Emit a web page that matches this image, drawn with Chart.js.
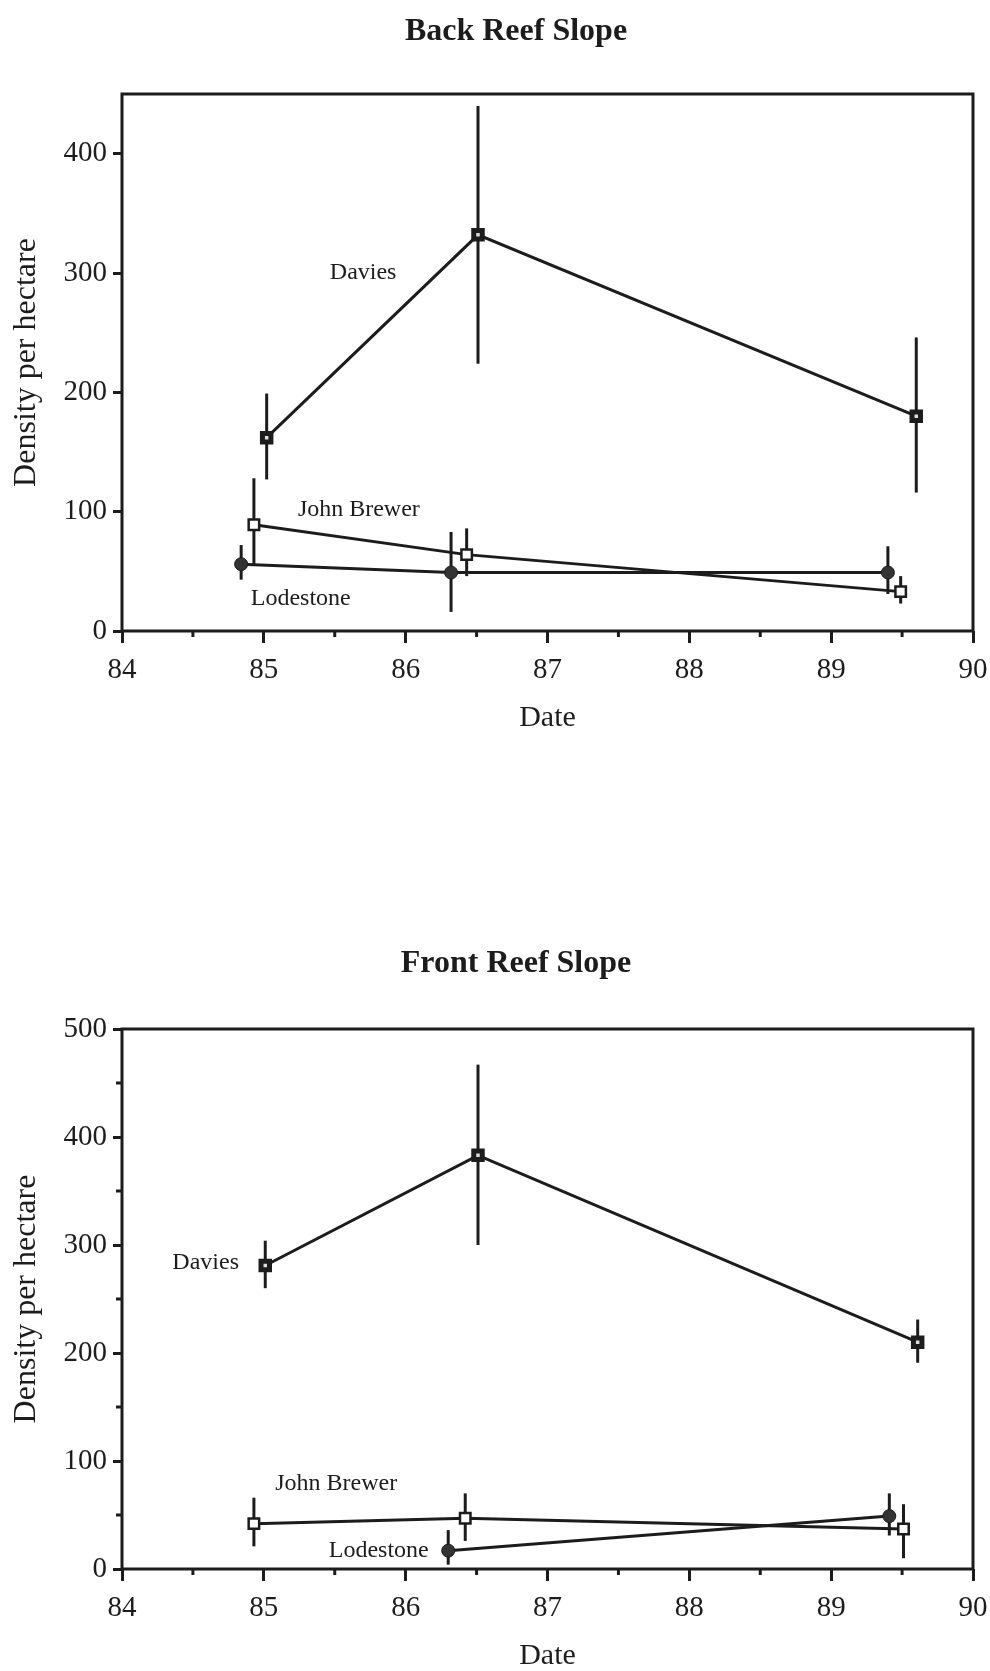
<!DOCTYPE html>
<html>
<head>
<meta charset="utf-8">
<script src="https://cdn.jsdelivr.net/npm/chart.js@4/dist/chart.umd.min.js"></script>
<style>
  body { margin: 0; background: #fff; overflow: hidden; }
  .panel { position: absolute; left: 0; width: 990px; }
</style>
</head>
<body>
<div class="panel" style="top:0;height:760px"><canvas id="backChart" width="990" height="760"></canvas></div>
<div class="panel" style="top:760px;height:911px"><canvas id="frontChart" width="990" height="911"></canvas></div>
<script>
// Back reef slope
const backDaviesX = [85.02, 86.51, 89.6];
const backDaviesY = [162, 332, 180];
const backDaviesLo = [127, 224, 116];
const backDaviesHi = [199, 440, 246];

const backBrewerX = [84.93, 86.43, 89.49];
const backBrewerY = [89, 64, 33];
const backBrewerLo = [56, 46, 23];
const backBrewerHi = [128, 86, 46];

const backLodeX = [84.84, 86.32, 89.4];
const backLodeY = [56, 49, 49];
const backLodeLo = [43, 16, 31];
const backLodeHi = [72, 83, 71];

// Front reef slope
const frontDaviesX = [85.01, 86.51, 89.61];
const frontDaviesY = [281, 383, 210];
const frontDaviesLo = [260, 300, 191];
const frontDaviesHi = [304, 467, 231];

const frontBrewerX = [84.93, 86.42, 89.51];
const frontBrewerY = [42, 47, 37];
const frontBrewerLo = [21, 26, 10];
const frontBrewerHi = [66, 70, 60];

const frontLodeX = [86.30, 89.41];
const frontLodeY = [17, 49];
const frontLodeLo = [4, 31];
const frontLodeHi = [36, 70];

const xTicks = [84, 85, 86, 87, 88, 89, 90];
const xMinorTicks = [84.5, 85.5, 86.5, 87.5, 88.5, 89.5];
const backYTicks = [0, 100, 200, 300, 400];
const frontYTicks = [0, 100, 200, 300, 400, 500];
const frontYMinorTicks = [50, 150, 250, 350, 450];

const ink = '#1c1c1c';
const serif = "'Liberation Serif', 'Times New Roman', serif";

function points(xs, ys, lo, hi) {
  return xs.map((x, i) => ({ x: x, y: ys[i], lo: lo[i], hi: hi[i] }));
}

const markerStyles = {
  Davies: { pointStyle: 'rect', pointRadius: 6, pointBackgroundColor: '#ddd', pointBorderColor: ink, pointBorderWidth: 5 },
  'John Brewer': { pointStyle: 'rect', pointRadius: 7.4, pointBackgroundColor: '#fff', pointBorderColor: ink, pointBorderWidth: 2.5 },
  Lodestone: { pointStyle: 'circle', pointRadius: 6.5, pointBackgroundColor: '#333', pointBorderColor: ink, pointBorderWidth: 1 }
};

function series(name, data) {
  return Object.assign({
    label: name,
    data: data,
    showLine: true,
    borderColor: ink,
    borderWidth: 3,
    pointHoverRadius: 7
  }, markerStyles[name]);
}

// error bars, frame, minor ticks, title and in-plot labels
const reefPlugin = {
  id: 'reef',
  beforeDatasetsDraw(chart) {
    const { ctx, scales: { x, y } } = chart;
    ctx.save();
    ctx.strokeStyle = ink;
    ctx.lineWidth = 3;
    chart.data.datasets.forEach(ds => {
      ds.data.forEach(p => {
        const px = x.getPixelForValue(p.x);
        ctx.beginPath();
        ctx.moveTo(px, y.getPixelForValue(p.lo));
        ctx.lineTo(px, y.getPixelForValue(p.hi));
        ctx.stroke();
      });
    });
    ctx.restore();
  },
  afterDraw(chart, args, opts) {
    const { ctx, chartArea: a, scales: { x, y } } = chart;
    ctx.save();
    ctx.strokeStyle = ink;
    ctx.lineWidth = 3;
    ctx.strokeRect(a.left, a.top, a.right - a.left, a.bottom - a.top);
    ctx.beginPath();
    xMinorTicks.forEach(v => {
      const px = x.getPixelForValue(v);
      ctx.moveTo(px, a.bottom);
      ctx.lineTo(px, a.bottom + 6);
    });
    (opts.yMinor || []).forEach(v => {
      const py = y.getPixelForValue(v);
      ctx.moveTo(a.left, py);
      ctx.lineTo(a.left - 6, py);
    });
    ctx.stroke();
    ctx.fillStyle = ink;
    ctx.textAlign = 'center';
    ctx.textBaseline = 'middle';
    ctx.font = 'bold 32px ' + serif;
    ctx.fillText(opts.title, opts.titleX, opts.titleY);
    ctx.font = '24px ' + serif;
    (opts.labels || []).forEach(l => {
      ctx.fillText(l.text, x.getPixelForValue(l.x), y.getPixelForValue(l.y));
    });
    ctx.restore();
  }
};

function makeChart(id, cfg) {
  return new Chart(document.getElementById(id), {
    type: 'scatter',
    data: { datasets: cfg.datasets },
    plugins: [reefPlugin],
    options: {
      responsive: false,
      animation: false,
      devicePixelRatio: 1,
      layout: { padding: { left: 0, right: 17, top: cfg.padTop, bottom: 0 } },
      plugins: {
        legend: { display: false },
        tooltip: { enabled: false },
        reef: { labels: cfg.labels, yMinor: cfg.yMinor, title: cfg.title, titleX: 516, titleY: cfg.titleY }
      },
      scales: {
        x: {
          type: 'linear',
          min: 84,
          max: 90,
          afterFit: s => { s.height = cfg.xHeight; s.paddingLeft = 0; s.paddingRight = 0; },
          afterBuildTicks: s => { s.ticks = xTicks.map(v => ({ value: v })); },
          border: { display: false },
          grid: { drawOnChartArea: false, drawTicks: true, tickLength: 12, lineWidth: 3, color: ink },
          ticks: { color: ink, padding: 10, font: { family: serif, size: 29 }, maxRotation: 0 },
          title: { display: true, text: 'Date', color: ink, font: { family: serif, size: 30, lineHeight: 1 }, padding: { top: 0, bottom: cfg.dateBottom } }
        },
        y: {
          type: 'linear',
          min: 0,
          max: cfg.yMax,
          afterFit: s => { s.width = 122; },
          afterBuildTicks: s => { s.ticks = cfg.yTicks.map(v => ({ value: v })); },
          border: { display: false },
          grid: { drawOnChartArea: false, drawTicks: true, tickLength: 9, lineWidth: 3, color: ink },
          ticks: { color: ink, padding: 6, font: { family: serif, size: 29 } },
          title: { display: true, text: 'Density per hectare', color: ink, font: { family: serif, size: 32, lineHeight: 1.2 }, padding: { top: 7, bottom: 0 } }
        }
      }
    }
  });
}

makeChart('backChart', {
  title: 'Back Reef Slope',
  titleY: 32, padTop: 94,
  xHeight: 129, dateBottom: 27,
  yMax: 450, yTicks: backYTicks, yMinor: [],
  datasets: [
    series('Davies', points(backDaviesX, backDaviesY, backDaviesLo, backDaviesHi)),
    series('John Brewer', points(backBrewerX, backBrewerY, backBrewerLo, backBrewerHi)),
    series('Lodestone', points(backLodeX, backLodeY, backLodeLo, backLodeHi))
  ],
  labels: [
    { text: 'Davies', x: 85.7, y: 300 },
    { text: 'John Brewer', x: 85.67, y: 102 },
    { text: 'Lodestone', x: 85.26, y: 27 }
  ]
});

makeChart('frontChart', {
  title: 'Front Reef Slope',
  titleY: 204, padTop: 269,
  xHeight: 102, dateBottom: 0,
  yMax: 500, yTicks: frontYTicks, yMinor: frontYMinorTicks,
  datasets: [
    series('Davies', points(frontDaviesX, frontDaviesY, frontDaviesLo, frontDaviesHi)),
    series('John Brewer', points(frontBrewerX, frontBrewerY, frontBrewerLo, frontBrewerHi)),
    series('Lodestone', points(frontLodeX, frontLodeY, frontLodeLo, frontLodeHi))
  ],
  labels: [
    { text: 'Davies', x: 84.59, y: 284 },
    { text: 'John Brewer', x: 85.51, y: 79 },
    { text: 'Lodestone', x: 85.81, y: 17 }
  ]
});
</script>
</body>
</html>
